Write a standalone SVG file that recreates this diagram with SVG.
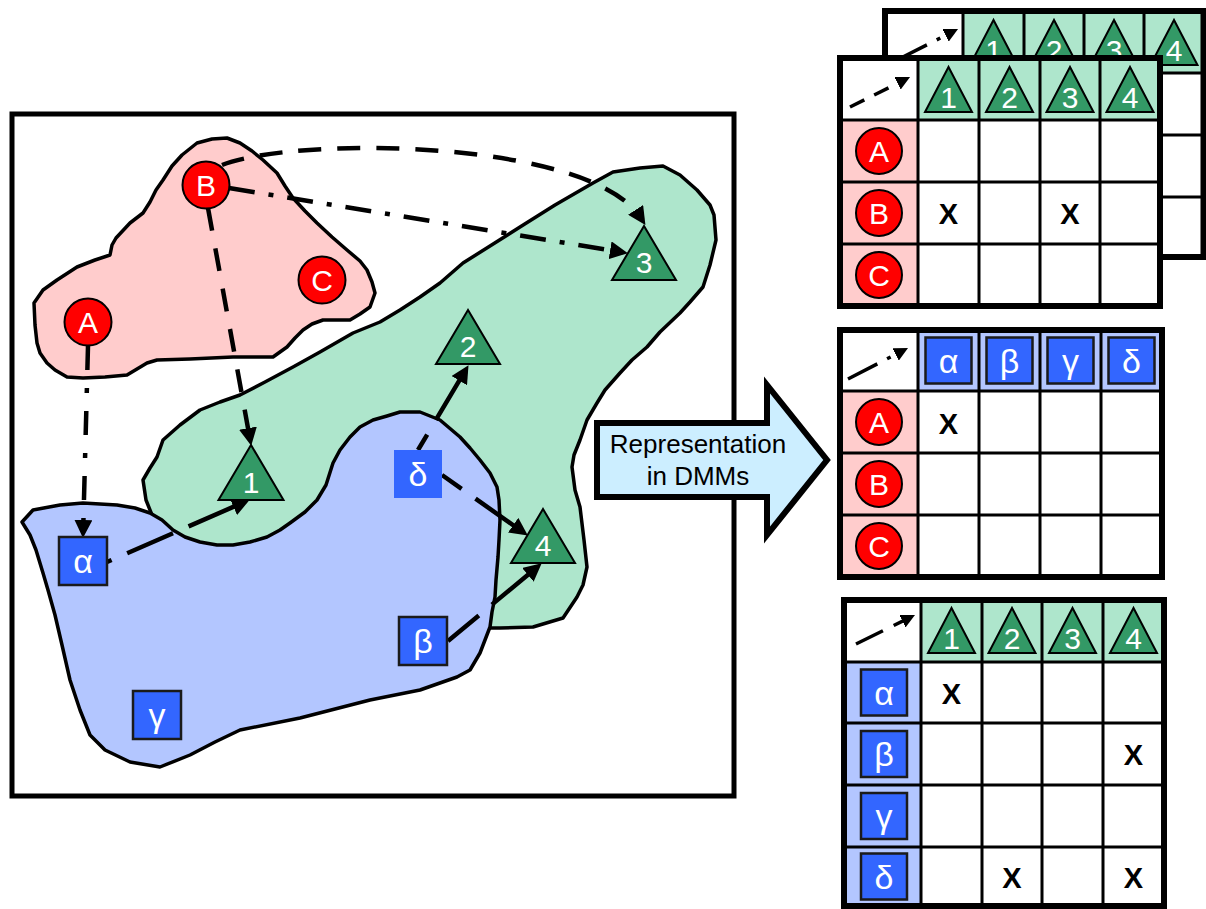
<svg xmlns="http://www.w3.org/2000/svg" xmlns:xlink="http://www.w3.org/1999/xlink" width="1206" height="909" viewBox="0 0 1206 909">
<style>
.frame{fill:#fff;stroke:#000;stroke-width:5}
.blob{stroke:#000;stroke-width:3.5;stroke-linejoin:round}
.pink{fill:#ffcccc}.green{fill:#aee6cc}.lblue{fill:#b3c6ff}.white{fill:#fff}
.circ{fill:#ff0000;stroke:#000;stroke-width:2}
.tri{fill:#339966;stroke:#000;stroke-width:2}
.box{fill:#3366ff;stroke:#1a1a1a;stroke-width:2.5}
.boxn{fill:#3366ff}
.lbl{font-family:"Liberation Sans",Arial,sans-serif;fill:#fff;text-anchor:middle;font-size:30px}
.gr{font-family:"Liberation Sans",Arial,sans-serif;fill:#fff;text-anchor:middle;font-size:34px}
.xm{font-family:"Liberation Sans",Arial,sans-serif;font-weight:bold;font-size:29px;text-anchor:middle;fill:#000}
.conn{fill:none;stroke:#000;stroke-width:4.5;marker-end:url(#ah)}
.leg{fill:none;stroke:#000;stroke-width:3.5;marker-end:url(#ah)}
.grid{stroke:#000;stroke-width:3;fill:none}
.outer{fill:none;stroke:#000;stroke-width:6}
.arrowtxt{font-family:"Liberation Sans",Arial,sans-serif;fill:#000;text-anchor:middle;font-size:26px}
</style>
<defs>
<marker id="ah" viewBox="0 0 10 10" refX="5" refY="5" markerWidth="4" markerHeight="4" orient="auto" markerUnits="strokeWidth"><path d="M0,0 L10,5 L0,10 z" fill="#000"/></marker>
<polygon id="ht" class="tri" points="0,0 -23.5,45 23.5,45"/>
<rect id="hb" class="box" x="-23" y="-23" width="46" height="46"/>
<circle id="hc" class="circ" r="23"/>
</defs>
<rect width="1206" height="909" fill="#fff"/>

<rect id="frame" class="frame" x="12" y="114" width="722" height="682"/>

<g id="blobs">
<path id="green-blob" class="blob green" d="M152,515 L146,500 L143,480 L150,468 L157,457 L163,440 L180,425 L200,410 L220,402 L240,395 L265,382 L293,367 L320,352 L353,333 L380,322 L400,310 L420,297 L440,283 L463,263 L490,246 L520,227 L555,205 L593,183 L613,172 L640,168 L663,166 L680,175 L697,190 L710,205 L714,215 L716,240 L710,265 L703,287 L690,302 L680,313 L660,332 L647,347 L632,360 L620,373 L605,390 L597,403 L587,420 L580,440 L574,455 L572,467 L575,490 L580,507 L584,540 L587,567 L583,585 L577,597 L563,618 L533,627 L500,628 L488,628 L470,640 L380,560 L300,560 L220,565 L190,552 L165,535 Z"/>
<path id="blue-blob" class="blob lblue" d="M22,522 L33,510 L60,505 L83,503 L117,505 L135,508 L150,513 L162,520 L173,530 L185,537 L200,542 L217,545 L233,545 L250,542 L267,537 L280,530 L290,523 L305,512 L317,500 L326,485 L333,463 L340,450 L350,437 L360,427 L373,420 L387,416 L400,412 L420,412 L440,420 L460,437 L470,448 L480,460 L490,473 L497,487 L499,500 L500,520 L499,540 L498,557 L496,580 L495,597 L492,612 L490,627 L485,640 L480,653 L470,670 L457,677 L420,690 L370,700 L300,718 L240,730 L215,742 L190,755 L160,767 L130,762 L105,750 L90,735 L80,710 L70,680 L62,645 L55,615 L48,590 L43,573 L36,550 L30,535 Z"/>
<path id="pink-blob" class="blob pink" d="M182,155 L197,143 L212,139 L227,138 L240,143 L252,151 L263,160 L277,173 L285,186 L293,198 L305,211 L317,223 L332,237 L347,250 L360,261 L367,270 L372,282 L375,293 L370,307 L360,314 L350,320 L336,320 L323,320 L312,324 L303,330 L295,338 L287,347 L280,352 L273,357 L233,357 L190,359 L157,360 L147,363 L127,375 L105,377 L83,378 L67,377 L55,370 L47,363 L40,353 L37,343 L35,325 L34,303 L43,290 L57,280 L77,267 L95,260 L110,255 L112,245 L116,238 L130,223 L143,213 L150,202 L156,190 L163,180 L172,166 Z"/>
</g>

<g id="arrow-big">
<polygon points="597,423 767,423 767,385 827,460 767,535 767,497 597,497" fill="#cceeff" stroke="#000" stroke-width="6" stroke-linejoin="miter"/>
<text class="arrowtxt" x="698" y="453">Representation</text>
<text class="arrowtxt" x="698" y="485">in DMMs</text>
</g>

<g id="connectors">
<path id="e-A-alpha" class="conn" d="M88,346 L83.2,529" stroke-dasharray="24 18 5 18"/>
<path id="e-B-1" class="conn" d="M208,208 L249.6,437" stroke-dasharray="23 18"/>
<path id="e-B-3a" class="conn" d="M222,165 C300,135 590,140 640.5,217.4" stroke-dasharray="23 16"/>
<path id="e-B-3b" class="conn" d="M229,188 L619,251.7" stroke-dasharray="26 14 5 14"/>
<path id="e-alpha-1" class="conn" d="M107,562 L241.7,503.2" stroke-dasharray="50 17" stroke-dashoffset="45"/>
<path id="e-beta-4" class="conn" d="M448,641 L534.8,569.1" stroke-dasharray="50 17" stroke-dashoffset="10"/>
<path id="e-delta-2" class="conn" d="M418,450 L463.9,372.9" stroke-dasharray="50 17" stroke-dashoffset="32"/>
<path id="e-delta-4" class="conn" d="M442,475 L520.5,530.4" stroke-dasharray="50 17" stroke-dashoffset="26"/>
</g>

<g id="node-A"><circle class="circ" cx="88" cy="322" r="23.5"/><text class="lbl" x="88" y="333">A</text></g>
<g id="node-B"><circle class="circ" cx="206" cy="185" r="23.5"/><text class="lbl" x="206" y="196">B</text></g>
<g id="node-C"><circle class="circ" cx="322" cy="280" r="23.5"/><text class="lbl" x="322" y="291">C</text></g>
<g id="node-1"><polygon class="tri" points="251,445 218.5,500 283.5,500"/><text class="lbl" x="251" y="493">1</text></g>
<g id="node-2"><polygon class="tri" points="468,310 436,364 500,364"/><text class="lbl" x="468" y="357">2</text></g>
<g id="node-3"><polygon class="tri" points="644,226 612,280 676,280"/><text class="lbl" x="644" y="273">3</text></g>
<g id="node-4"><polygon class="tri" points="543,509 511,563 575,563"/><text class="lbl" x="543" y="556">4</text></g>
<g id="node-alpha"><rect class="box" x="59" y="537" width="48" height="48"/><text class="gr" x="83" y="573">α</text></g>
<g id="node-gamma"><rect class="box" x="133" y="691" width="48" height="48"/><text class="gr" x="157" y="727">γ</text></g>
<g id="node-delta"><rect class="boxn" x="394" y="450" width="48" height="48"/><text class="gr" x="418" y="486">δ</text></g>
<g id="node-beta"><rect class="box" x="399" y="617" width="48" height="48"/><text class="gr" x="423" y="653">β</text></g>

<g id="matrix-back">
<rect class="white" x="885" y="11" width="318.5" height="246"/>
<rect class="pink" x="885" y="73" width="78" height="184"/>
<rect class="green" x="963" y="11" width="240.5" height="62"/>
<path class="grid" d="M963,11V257M1024,11V257M1084,11V257M1144,11V257M885,73H1203.5M885,135H1203.5M885,197H1203.5"/>
<rect class="outer" x="885" y="11" width="318.5" height="246"/>
<use xlink:href="#ht" x="993.5" y="20"/><text class="lbl" x="993.5" y="61">1</text>
<use xlink:href="#ht" x="1054" y="20"/><text class="lbl" x="1054" y="61">2</text>
<use xlink:href="#ht" x="1114" y="20"/><text class="lbl" x="1114" y="61">3</text>
<use xlink:href="#ht" x="1174" y="20"/><text class="lbl" x="1174" y="61">4</text>
<path class="leg" d="M893,62 L951.8,32.2" stroke-dasharray="38 11 4 20"/>
</g>

<g id="matrix-front">
<rect class="white" x="840" y="58" width="320" height="248"/>
<rect class="pink" x="840" y="120" width="78" height="186"/>
<rect class="green" x="918" y="58" width="242" height="62"/>
<path class="grid" d="M918,58V306M979,58V306M1040,58V306M1100,58V306M840,120H1160M840,182H1160M840,244H1160"/>
<rect class="outer" x="840" y="58" width="320" height="248"/>
<path class="leg" d="M850,107 L903.8,80.2" stroke-dasharray="16 11"/>
<use xlink:href="#ht" x="948.5" y="67"/><text class="lbl" x="948.5" y="108">1</text>
<use xlink:href="#ht" x="1009.5" y="67"/><text class="lbl" x="1009.5" y="108">2</text>
<use xlink:href="#ht" x="1070" y="67"/><text class="lbl" x="1070" y="108">3</text>
<use xlink:href="#ht" x="1130" y="67"/><text class="lbl" x="1130" y="108">4</text>
<use xlink:href="#hc" x="879" y="151"/><text class="lbl" x="879" y="162">A</text>
<use xlink:href="#hc" x="879" y="213"/><text class="lbl" x="879" y="224">B</text>
<use xlink:href="#hc" x="879" y="275"/><text class="lbl" x="879" y="286">C</text>
<text class="xm" x="948.5" y="224">X</text>
<text class="xm" x="1070" y="224">X</text>
</g>

<g id="matrix-middle">
<rect class="white" x="840" y="330" width="322" height="247"/>
<rect class="pink" x="840" y="391" width="78" height="186"/>
<rect class="lblue" x="918" y="330" width="244" height="61"/>
<path class="grid" d="M918,330V577M979,330V577M1040,330V577M1101,330V577M840,391H1162M840,453H1162M840,515H1162"/>
<rect class="outer" x="840" y="330" width="322" height="247"/>
<path class="leg" d="M848,379 L901.8,351.2" stroke-dasharray="33 11 4 20"/>
<use xlink:href="#hb" x="948.5" y="360.5"/><text class="gr" x="948.5" y="372.5">α</text>
<use xlink:href="#hb" x="1009.5" y="360.5"/><text class="gr" x="1009.5" y="372.5">β</text>
<use xlink:href="#hb" x="1070.5" y="360.5"/><text class="gr" x="1070.5" y="372.5">γ</text>
<use xlink:href="#hb" x="1131.5" y="360.5"/><text class="gr" x="1131.5" y="372.5">δ</text>
<use xlink:href="#hc" x="879" y="422"/><text class="lbl" x="879" y="433">A</text>
<use xlink:href="#hc" x="879" y="484"/><text class="lbl" x="879" y="495">B</text>
<use xlink:href="#hc" x="879" y="546"/><text class="lbl" x="879" y="557">C</text>
<text class="xm" x="948.5" y="434">X</text>
</g>

<g id="matrix-bottom">
<rect class="white" x="844" y="600" width="320" height="306"/>
<rect class="lblue" x="844" y="662" width="77" height="244"/>
<rect class="green" x="921" y="600" width="243" height="62"/>
<path class="grid" d="M921,600V906M982,600V906M1042,600V906M1103,600V906M844,662H1164M844,723H1164M844,785H1164M844,847H1164"/>
<rect class="outer" x="844" y="600" width="320" height="306"/>
<path class="leg" d="M856,644 L908.7,618.1" stroke-dasharray="30 12"/>
<use xlink:href="#ht" x="951.5" y="608"/><text class="lbl" x="951.5" y="649">1</text>
<use xlink:href="#ht" x="1012" y="608"/><text class="lbl" x="1012" y="649">2</text>
<use xlink:href="#ht" x="1072.5" y="608"/><text class="lbl" x="1072.5" y="649">3</text>
<use xlink:href="#ht" x="1133.5" y="608"/><text class="lbl" x="1133.5" y="649">4</text>
<use xlink:href="#hb" x="884" y="692.5"/><text class="gr" x="884" y="704.5">α</text>
<use xlink:href="#hb" x="884" y="754"/><text class="gr" x="884" y="766">β</text>
<use xlink:href="#hb" x="884" y="816"/><text class="gr" x="884" y="828">γ</text>
<use xlink:href="#hb" x="884" y="876.5"/><text class="gr" x="884" y="888.5">δ</text>
<text class="xm" x="951.5" y="704">X</text>
<text class="xm" x="1133.5" y="765">X</text>
<text class="xm" x="1012" y="888">X</text>
<text class="xm" x="1133.5" y="888">X</text>
</g>
</svg>
